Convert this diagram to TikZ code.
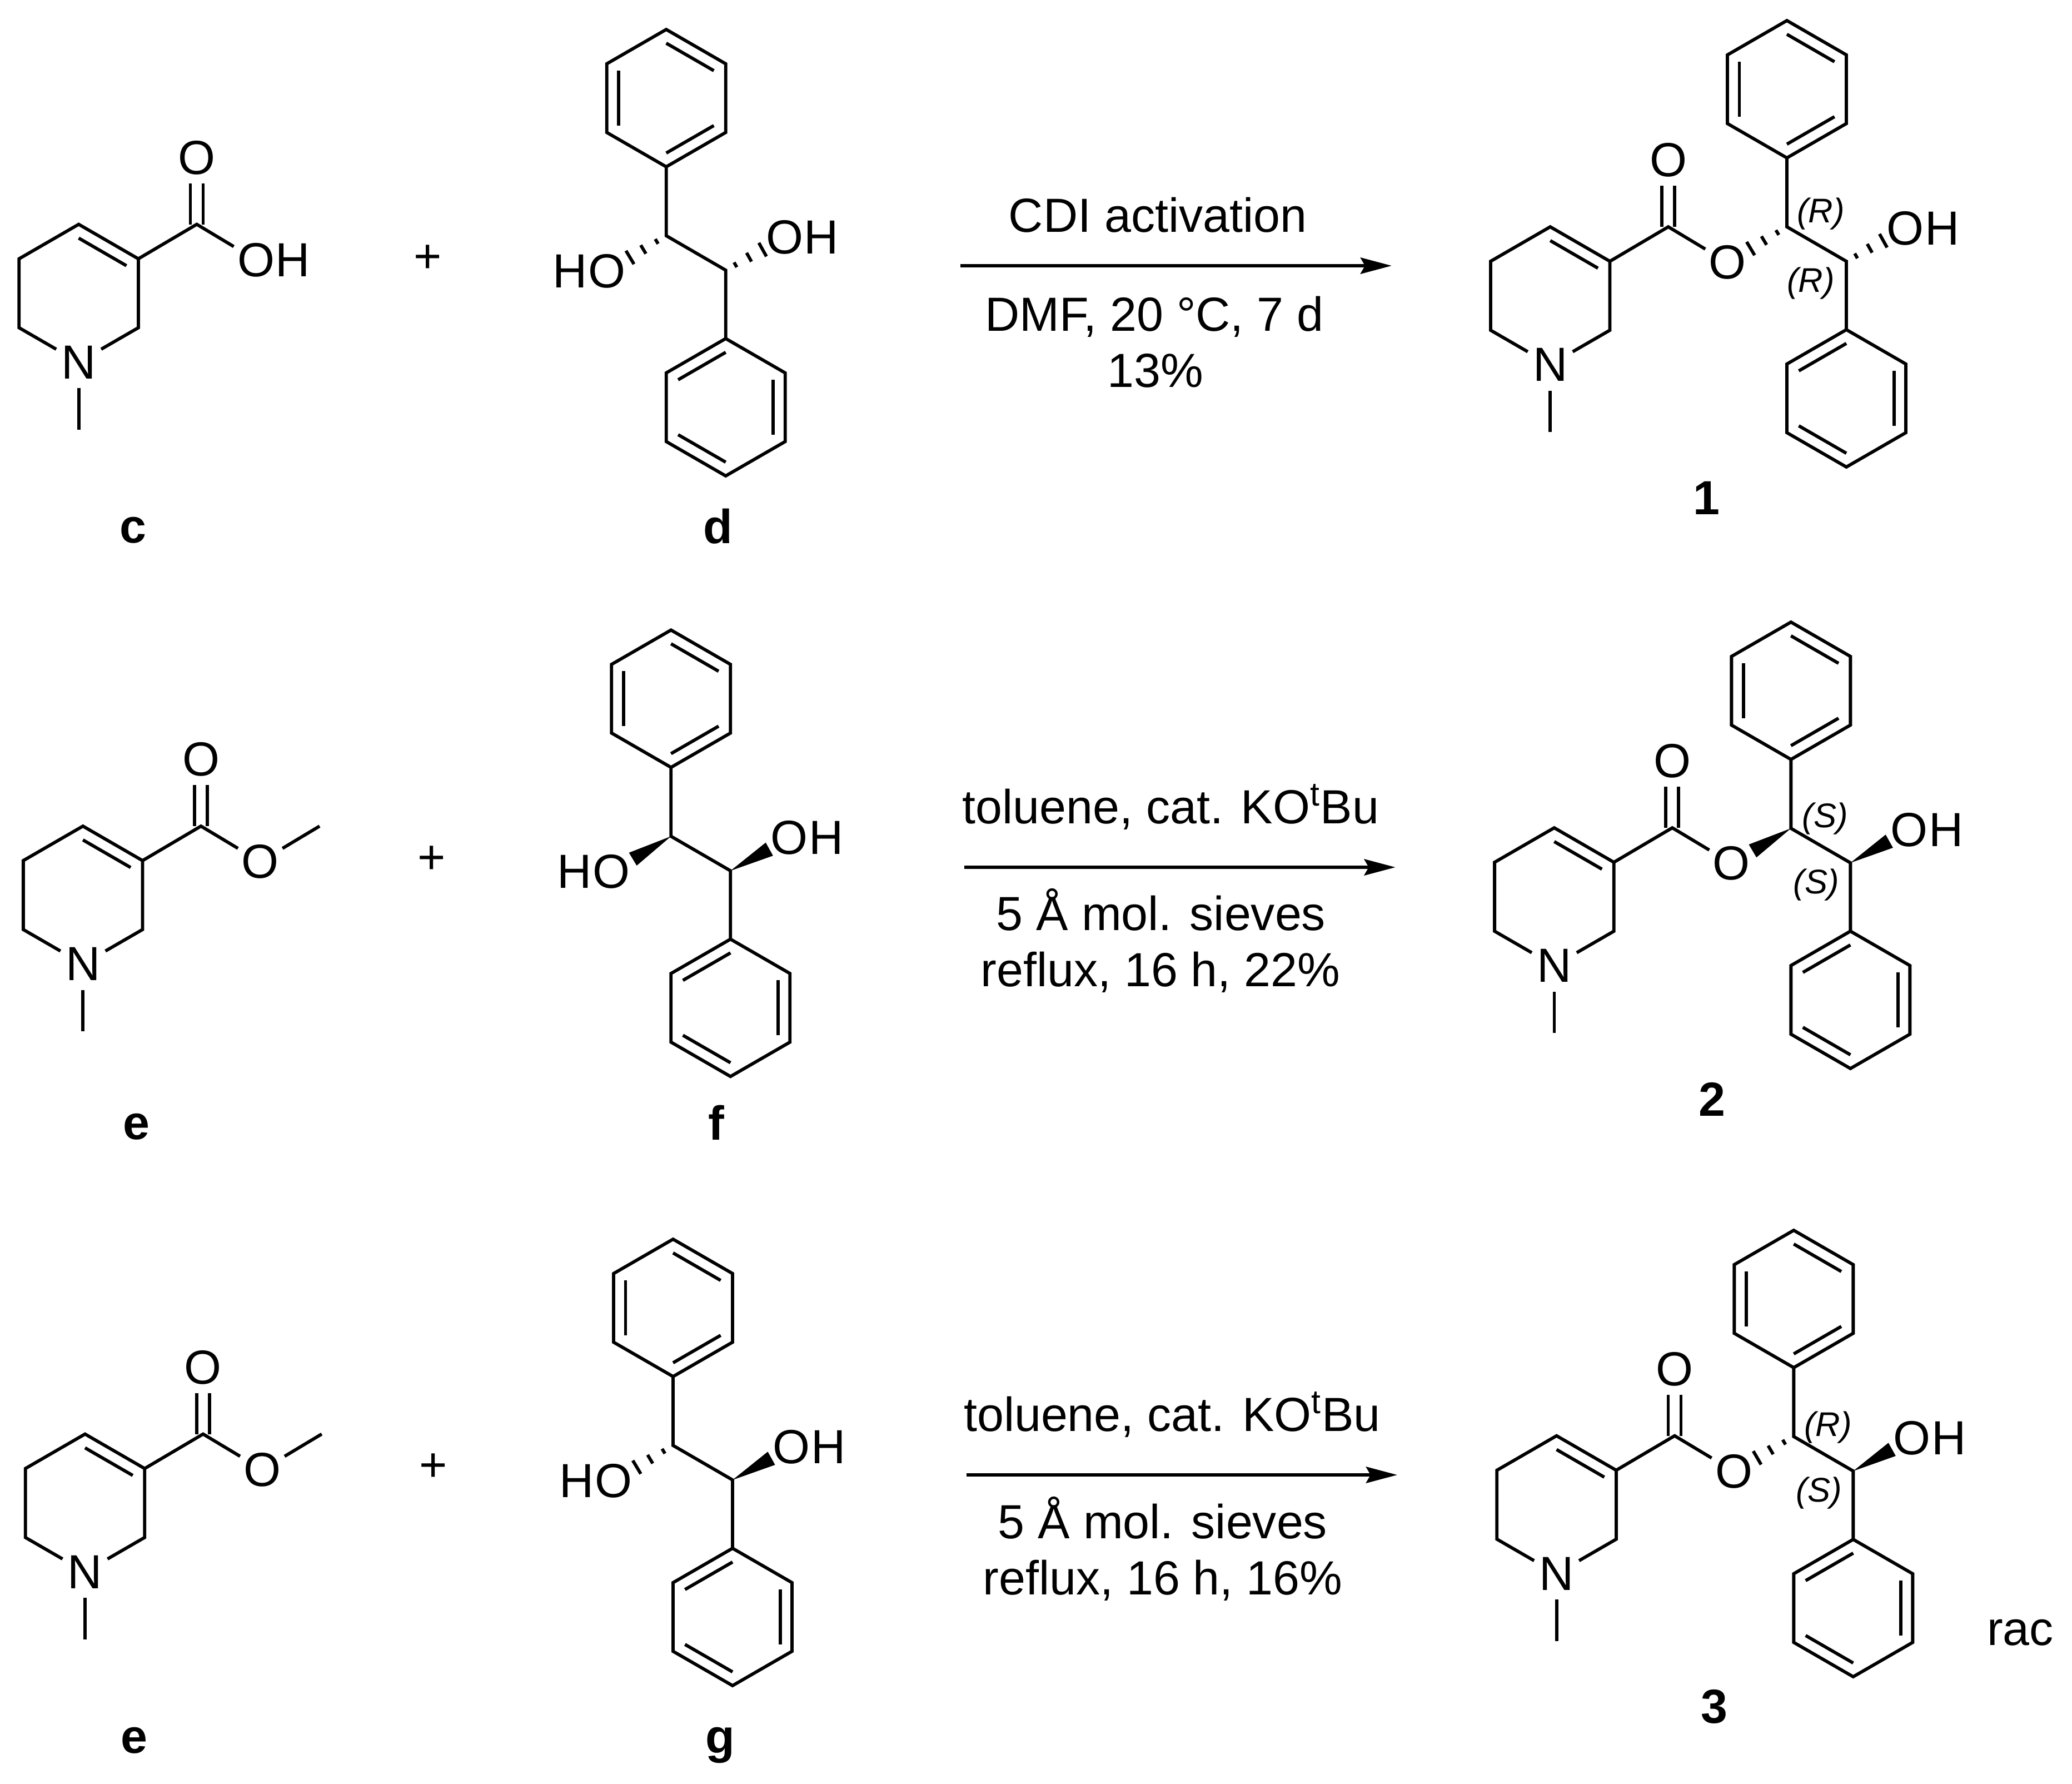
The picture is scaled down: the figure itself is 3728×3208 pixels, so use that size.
\documentclass[tikz,border=0pt]{standalone}
\usepackage{fontspec}
\setmainfont{Liberation Sans}
\usetikzlibrary{calc,arrows.meta}

\newcommand{\innerbond}[3]{\draw[bond] ($(#1)!.2!(#3)$) -- ($(#2)!.2!(#3)$);}
\newcommand{\hashbond}[2]{\foreach \d/\w in {.2/.05,.48/.09,.76/.14}
  {\draw[bond] ($(#1)!\d cm!(#2)!\w cm!90:(#2)$) -- ($(#1)!\d cm!(#2)!\w cm!-90:(#2)$);}}
\newcommand{\wedgebond}[2]{\fill (#1) -- ($(#1)!.8cm!(#2)!.135cm!90:(#2)$) -- ($(#1)!.8cm!(#2)!.135cm!-90:(#2)$) -- cycle;}

\tikzset{
bond/.style = {line width=.058cm},
rxn/.style = {line width=.065cm, -{Stealth[length=.56cm,width=.29cm,inset=.08cm]}},
atom/.style = {circle, inner sep=0pt, minimum size=.92cm, font=\fontsize{24.5}{28}\selectfont},
hright/.style = {anchor=west, xshift=.345cm, inner sep=0pt, font=\fontsize{24.5}{28}\selectfont},
hleft/.style = {anchor=east, xshift=-.345cm, inner sep=0pt, font=\fontsize{24.5}{28}\selectfont},
cond/.style = {anchor=base, inner sep=0pt, font=\fontsize{24.5}{28}\selectfont},
cmpd/.style = {anchor=base, inner sep=0pt, font=\fontsize{24.5}{28}\selectfont\bfseries},
cip/.style = {inner sep=0pt, yshift=-.04cm, font=\fontsize{17.5}{20}\selectfont\itshape},
pics/phenyl/.style = {code={
  \coordinate (-cen) at (0,0);
  \coordinate (-a) at (0,-123.5);
  \coordinate (-b) at (107,-61.75);
  \coordinate (-c) at (107,61.75);
  \coordinate (-d) at (0,123.5);
  \coordinate (-e) at (-107,61.75);
  \coordinate (-f) at (-107,-61.75);
  \draw[bond] (-a) -- (-b) -- (-c) -- (-d) -- (-e) -- (-f) -- cycle;
  \innerbond{-a}{-b}{-cen}
  \innerbond{-c}{-d}{-cen}
  \innerbond{-e}{-f}{-cen}
}},
pics/tetra/.style = {code={
  \coordinate (-cen) at (0,0);
  \coordinate (-c4) at (0,-124);
  \coordinate (-c3) at (107.3,-62);
  \coordinate (-c2) at (107.3,62);
  \coordinate (-c6) at (-107.3,62);
  \coordinate (-c5) at (-107.3,-62);
  \coordinate (-me) at (0,245);
  \coordinate (-co) at (212.4,-124);
  \node[atom] (-n) at (0,124) {N};
  \node[atom] (-ox) at (212.4,-244) {O};
  \node[atom] (-oe) at (319,-60) {O};
  \draw[bond] (-n) -- (-c2) -- (-c3) -- (-c4) -- (-c5) -- (-c6) -- (-n);
  \draw[bond] (-n) -- (-me);
  \draw[bond] (-c3) -- (-co) -- (-oe);
  \innerbond{-c3}{-c4}{-cen}
  \draw[bond, shorten >=.46cm] ([xshift=-.115cm]-co) -- ([xshift=-.115cm]-ox.center);
  \draw[bond, shorten >=.46cm] ([xshift=.115cm]-co) -- ([xshift=.115cm]-ox.center);
}},
pics/diol/.style = {code={
  \coordinate (-c1) at (0,0);
  \coordinate (-c2) at (107,62);
  \coordinate (-pa) at (0,-124);
  \coordinate (-pb) at (107,185);
  \node[atom] (-ob) at (213,3) {O};
  \node[hright] (-hb) at (-ob) {H};
  \draw[bond] (-pa) -- (-c1) -- (-c2) -- (-pb);
  \pic at (0,-247.5) {phenyl};
  \pic[rotate=180] at (107,308.5) {phenyl};
}},
}

\begin{document}
\begin{tikzpicture}[x=.01cm, y=-.01cm]
\useasboundingbox (0,0) rectangle (3728,3208);

% first row
\pic (c) at (141.6,527.5) {tetra};
\node[hright] (c-h) at (c-oe) {H};
\node[cmpd] (c-lab) at (239,976) {c};
\node[atom] (plus1) at (770,466) {+};
\pic (d) at (1198.7,424) {diol};
\node[atom] (d-oa) at (1091.7,488) {O};
\node[hleft] (d-ha) at (d-oa) {H};
\hashbond{d-c1}{d-oa}
\hashbond{d-c2}{d-ob}
\node[cmpd] (d-lab) at (1291.5,977) {d};
\coordinate (r1a) at (1728,478);
\coordinate (r1b) at (2504,478);
\draw[rxn] (r1a) -- (r1b);
\node[cond] (t1a) at (2083,417) {CDI activation};
\node[cond] (t1b) at (2077,595) {DMF, 20 °C, 7 d};
\node[cond] (t1c) at (2079,696) {13\%};
\pic (pa) at (2789.2,532) {tetra};
\pic (qa) at (3215,408) {diol};
\hashbond{qa-c1}{pa-oe}
\hashbond{qa-c2}{qa-ob}
\node[cip] (qa-ra) at (3276,381) {(R)};
\node[cip] (qa-rb) at (3258,506) {(R)};
\node[cmpd] (pa-lab) at (3070,925) {1};

% second row
\pic (e) at (149.2,1610) {tetra};
\coordinate (e-cm) at (575,1486);
\draw[bond] (e-oe) -- (e-cm);
\node[cmpd] (e-lab) at (245.9,2049) {e};
\node[atom] (plus2) at (777,1546.5) {+};
\pic (f) at (1207.3,1504.3) {diol};
\node[atom] (f-oa) at (1100.3,1568.3) {O};
\node[hleft] (f-ha) at (f-oa) {H};
\wedgebond{f-c1}{f-oa}
\wedgebond{f-c2}{f-ob}
\node[cmpd] (f-lab) at (1288.6,2050) {f};
\coordinate (r2a) at (1735,1560);
\coordinate (r2b) at (2510.7,1560);
\draw[rxn] (r2a) -- (r2b);
\node[cond] (t2a) at (2106.5,1481) {toluene, cat. KO\textsuperscript{t}Bu};
\node[cond] (t2b) at (2089,1673) {5 Å mol. sieves};
\node[cond] (t2c) at (2088,1774) {reflux, 16 h, 22\%};
\pic (pb) at (2796.4,1613) {tetra};
\pic (qb) at (3222.3,1490) {diol};
\wedgebond{qb-c1}{pb-oe}
\wedgebond{qb-c2}{qb-ob}
\node[cip] (qb-ra) at (3283.5,1468.6) {(S)};
\node[cip] (qb-rb) at (3267.6,1588) {(S)};
\node[cmpd] (pb-lab) at (3080.6,2007) {2};

% third row
\pic (h) at (153,2703.5) {tetra};
\coordinate (h-cm) at (578.8,2579.5);
\draw[bond] (h-oe) -- (h-cm);
\node[cmpd] (h-lab) at (241,3153) {e};
\node[atom] (plus3) at (780,2640) {+};
\pic (g) at (1211,2600) {diol};
\node[atom] (g-oa) at (1104,2664) {O};
\node[hleft] (g-ha) at (g-oa) {H};
\hashbond{g-c1}{g-oa}
\wedgebond{g-c2}{g-ob}
\node[cmpd] (g-lab) at (1296,3153) {g};
\coordinate (r3a) at (1739,2653);
\coordinate (r3b) at (2514,2653);
\draw[rxn] (r3a) -- (r3b);
\node[cond] (t3a) at (2109,2574) {toluene, cat. KO\textsuperscript{t}Bu};
\node[cond] (t3b) at (2092,2767) {5 Å mol. sieves};
\node[cond] (t3c) at (2092,2868) {reflux, 16 h, 16\%};
\pic (pc) at (2800.6,2706.6) {tetra};
\pic (qc) at (3227.3,2584) {diol};
\hashbond{qc-c1}{pc-oe}
\wedgebond{qc-c2}{qc-ob}
\node[cip] (qc-ra) at (3289,2563.5) {(R)};
\node[cip] (qc-rb) at (3272.7,2681.5) {(S)};
\node[cond] (rac) at (3635,2959) {rac};
\node[cmpd] (pc-lab) at (3084,3099) {3};
\end{tikzpicture}
\end{document}
